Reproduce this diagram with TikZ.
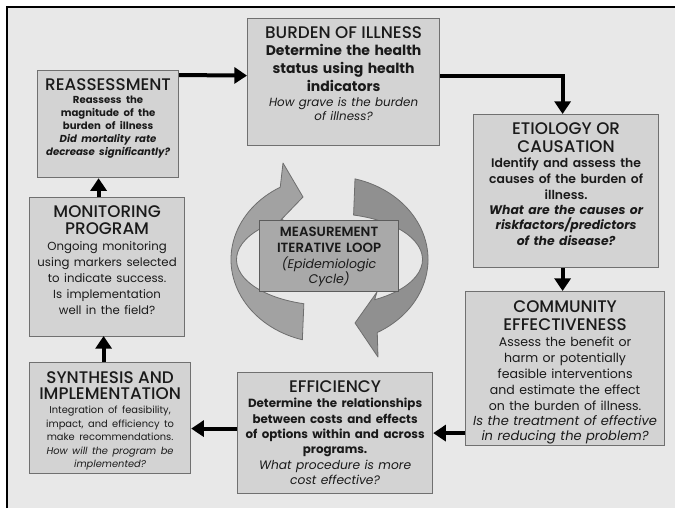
\documentclass[tikz,border=0pt]{standalone}
\usepackage{fontspec}
\setmainfont{Poppins}
\newfontfamily\headfont{Poppins Medium}
\newfontfamily\semifont{Poppins SemiBold}
\usetikzlibrary{arrows.meta,calc}

\definecolor{paper}{HTML}{E8E8E8}
\definecolor{boxfill}{HTML}{D3D3D3}
\definecolor{boxline}{HTML}{707070}
\definecolor{loopfill}{HTML}{A9A9A9}
\definecolor{loopline}{HTML}{5C5C5C}
\definecolor{ringA}{HTML}{A2A2A2}
\definecolor{ringB}{HTML}{909090}
\definecolor{ringline}{HTML}{6E6E6E}
\definecolor{ink}{HTML}{1A1A1A}

% font size in pt, baseline skip in pt
\newcommand{\fs}[2]{\fontsize{#1}{#2}\selectfont}
% box heading
\newcommand{\heading}[2][13.5]{{\headfont\fs{12.6}{#1}#2\par}}

\begin{document}
\begin{tikzpicture}[x=0.75pt,y=-0.75pt,
  stage/.style 2 args={draw=boxline, fill=boxfill, line width=0.9pt,
    inner sep=0pt, anchor=north west,
    minimum width=#1*0.75pt, minimum height=#2*0.75pt},
  hub/.style 2 args={stage={#1}{#2}, fill=loopfill, draw=loopline},
  words/.style={anchor=north, inner sep=0pt, align=center, text=ink,
    text width=#1*0.75pt},
  flow/.style={line width=3pt, -{Triangle[width=12pt,length=9.5pt]}},
  ribbon/.style={draw=ringline, line width=0.6pt, line join=round}
]
\useasboundingbox (0,0) rectangle (675,508);

% page and frame
\fill[white] (0,0) rectangle (675,508);
\fill[paper] (8,8) rectangle (675,508);
\draw[line width=1.5pt] (7,508) -- (7,7) -- (675,7);

% cycle of two curved ribbon arrows
\filldraw[ribbon, fill=ringA]
  (302.35,339.77) arc[start angle=106, end angle=240, x radius=98.5, y radius=83.5]
  -- (283,163) -- (303,197) -- (276,225) -- (283,219.66)
  arc[start angle=240, end angle=106, x radius=93, y radius=46] -- cycle;
\filldraw[ribbon, fill=ringB]
  (355.0,178.85) arc[start angle=-75, end angle=61, x radius=98.5, y radius=83.5]
  -- (378,357) -- (355,323) -- (377,292) -- (374.6,299.7)
  arc[start angle=61, end angle=-75, x radius=93, y radius=46] -- cycle;

% boxes
\node[stage={141}{107}] (reass) at (37,70) {};
\node[stage={192}{127}] (burden) at (247,18) {};
\node[stage={185}{153}] (etio) at (473,114) {};
\node[stage={199}{154}] (comm) at (465,291) {};
\node[stage={195}{121}] (eff) at (237,372) {};
\node[stage={161}{111}] (synth) at (29,362) {};
\node[stage={155}{139}] (monit) at (29,197) {};
\node[hub={139}{71}] (loop) at (259,220) {};

% box texts
\node[words=138] (reassT) at ($(reass.north)+(0,8)$) {%
  \heading{REASSESSMENT}
  {\fs{7.6}{9.75}\bfseries Reassess the\\ magnitude of the\\ burden of illness\par}
  {\fs{7.6}{9.75}\bfseries\itshape Did mortality rate\\ decrease significantly?\par}};

\node[words=188] (burdenT) at ($(burden.north)+(0,8)$) {%
  \heading[14.5]{BURDEN OF ILLNESS}
  {\fs{10.5}{13.3}\bfseries Determine the health\\ status using health\\ indicators\par}
  {\fs{8.9}{11.1}\itshape How grave is the burden\\ of illness?\par}};

\node[words=182] (etioT) at ($(etio.north)+(0,8)$) {%
  \heading{ETIOLOGY OR\\ CAUSATION}
  {\semifont\fs{9.3}{11.8}Identify and assess the\\ causes of the burden of\\ illness.\par}
  {\fs{9.3}{11.5}\bfseries\itshape What are the causes or\\ riskfactors/predictors\\ of the disease?\par}};

\node[words=196] (commT) at ($(comm.north)+(0,9)$) {%
  \heading{COMMUNITY\\ EFFECTIVENESS}
  {\fs{9.4}{12}Assess the benefit or\\ harm or potentially\\ feasible interventions\\ and estimate the effect\\ on the burden of illness.\par}
  {\fs{9.8}{11.4}\itshape Is the treatment of effective\\ in reducing the problem?\par}};

\node[words=192] (effT) at ($(eff.north)+(0,8)$) {%
  \heading{EFFICIENCY}
  {\fs{8.9}{11.6}\bfseries Determine the relationships\\ between costs and effects\\ of options within and across\\ programs.\par}
  {\fs{9.2}{11.4}\itshape What procedure is more\\ cost effective?\par}};

\node[words=158] (synthT) at ($(synth.north)+(0,9)$) {%
  \heading[12.2]{SYNTHESIS AND\\ IMPLEMENTATION}
  {\fs{7.4}{10.4}Integration of feasibility,\\ impact, and efficiency to\\ make recommendations.\par}
  {\fs{7.4}{9.9}\itshape How will the program be\\ implemented?\par}};

\node[words=152] (monitT) at ($(monit.north)+(0,8)$) {%
  \heading[12.75]{MONITORING\\ PROGRAM}
  {\fs{8.8}{12}Ongoing monitoring\\ using markers selected\\ to indicate success.\\ Is implementation\\ well in the field?\par}};

\node[words=136] (loopT) at ($(loop.north)+(0,7)$) {%
  {\semifont\fs{10}{11.8}MEASUREMENT\\ ITERATIVE LOOP\par}
  {\fs{9.4}{11.8}\itshape (Epidemiologic\\ Cycle)\par}};

% connectors around the cycle
\draw[flow] ($(reass.north east)+(0,5)$) -- ($(burden.west)+(0,-6.5)$);
\draw[flow] ($(burden.east)+(0,-6.5)$) -| ($(etio.north)+(-3.5,0)$);
\draw[flow] ($(etio.south)+(-3.5,0)$) -- ($(comm.north)+(-2.5,0)$);
\draw[flow] (comm.west |- eff.east) -- (eff.east);
\draw[flow] ($(eff.west)+(0,-4.5)$) -- ($(synth.east)+(0,10.5)$);
\draw[flow] ($(synth.north)+(-6.5,0)$) -- ($(monit.north)+(-3.5,139)$);
\draw[flow] ($(monit.north)+(-8.5,0)$) -- ($(reass.south)+(-9.5,0)$);
\end{tikzpicture}
\end{document}
